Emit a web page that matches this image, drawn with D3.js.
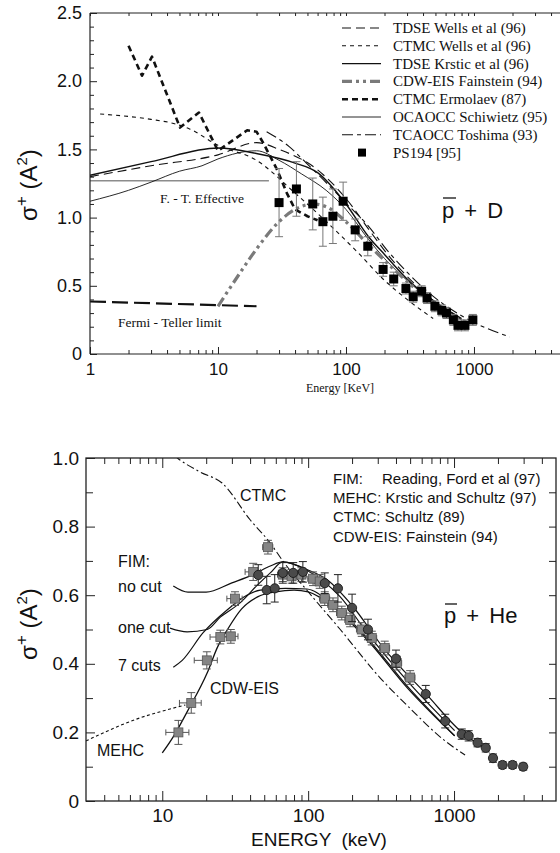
<!DOCTYPE html>
<html>
<head>
<meta charset="utf-8">
<script src="https://cdn.jsdelivr.net/npm/d3@7"></script>
<style>
  html, body { margin: 0; padding: 0; background: #fff; }
  svg { display: block; }
  .sans { font-family: "Liberation Sans", Arial, Helvetica, sans-serif; }
  .serif { font-family: "Liberation Serif", "Times New Roman", serif; }
</style>
</head>
<body>
<svg id="chart" width="560" height="853"></svg>
<script>
// ---------- Upper panel: antiproton + D ----------
const tdseWellsE = [1, 3, 10, 20, 30, 60, 100, 160, 220, 330, 500, 800];
const tdseWellsV = [1.30, 1.38, 1.46, 1.55, 1.50, 1.35, 1.14, 0.88, 0.71, 0.53, 0.38, 0.26];

const ctmcWellsE = [1.2, 3, 4.5, 6, 10, 20, 40, 80, 125, 200, 300, 480];
const ctmcWellsV = [1.76, 1.72, 1.69, 1.65, 1.53, 1.42, 1.18, 0.92, 0.74, 0.54, 0.40, 0.26];

const tdseKrsticE = [1, 3, 10, 20, 40, 60, 100, 150, 200, 300, 500, 800];
const tdseKrsticV = [1.31, 1.41, 1.51, 1.47, 1.40, 1.33, 1.10, 0.86, 0.73, 0.55, 0.38, 0.26];

const cdwDE = [10, 15, 20, 30, 40, 55, 70, 100, 150, 250, 400, 650, 900];
const cdwDV = [0.35, 0.60, 0.77, 0.97, 1.06, 1.10, 1.08, 0.97, 0.80, 0.60, 0.43, 0.28, 0.23];

const ermolaevE = [2, 2.55, 3.05, 5.05, 7.1, 10, 16.9, 20, 22.5, 29, 34.5, 40, 50, 60];
const ermolaevV = [2.26, 2.04, 2.18, 1.66, 1.77, 1.49, 1.64, 1.63, 1.55, 1.35, 1.18, 1.06, 1.01, 0.98];

const schiwietzE = [1, 2, 3, 5, 7.5, 10, 20, 30, 45, 70, 100, 150, 200, 300, 500, 800];
const schiwietzV = [1.12, 1.20, 1.26, 1.34, 1.38, 1.43, 1.49, 1.42, 1.32, 1.20, 1.06, 0.84, 0.70, 0.54, 0.37, 0.25];

const toshimaE = [24, 36, 49, 63, 104, 146, 210, 300, 430, 800, 1900];
const toshimaV = [1.63, 1.52, 1.40, 1.30, 1.09, 0.95, 0.76, 0.60, 0.46, 0.28, 0.125];

const fermiTellerE = [1, 20];
const fermiTellerV = [0.385, 0.35];
const ftEffectiveE = [1, 25];
const ftEffectiveV = [1.27, 1.27];

const ps194DE = [30, 41, 55, 66, 79, 95, 118, 148, 195, 236, 294, 335, 390, 430, 495, 560, 610, 690, 750, 850, 980];
const ps194DV = [1.11, 1.21, 1.10, 0.97, 1.01, 1.12, 0.91, 0.79, 0.62, 0.55, 0.48, 0.42, 0.46, 0.41, 0.35, 0.32, 0.30, 0.25, 0.21, 0.21, 0.25];
const ps194DErr = [0.25, 0.20, 0.19, 0.18, 0.20, 0.14, 0.08, 0.07, 0.05, 0.05, 0.04, 0.04, 0.04, 0.04, 0.04, 0.04, 0.04, 0.04, 0.04, 0.04, 0.04];

const topLegend = ["TDSE Wells et al (96)", "CTMC Wells et al (96)", "TDSE Krstic et al (96)",
  "CDW-EIS Fainstein (94)", "CTMC Ermolaev (87)", "OCAOCC Schiwietz (95)",
  "TCAOCC Toshima (93)", "PS194 [95]"];
const topXTicks = [1, 10, 100, 1000];
const topYTicks = [0, 0.5, 1.0, 1.5, 2.0, 2.5];

// ---------- Lower panel: antiproton + He ----------
const ctmcHeE = [10, 12.7, 18, 25.7, 40, 55, 67, 100, 166, 310, 500, 840, 1190];
const ctmcHeV = [1.04, 1.0, 0.96, 0.927, 0.82, 0.752, 0.70, 0.61, 0.50, 0.36, 0.27, 0.18, 0.134];

const mehcE = [3, 4, 5, 7, 10, 14.4];
const mehcV = [0.175, 0.20, 0.218, 0.242, 0.262, 0.28];

const noCutE = [11.9, 15, 20, 30, 42, 55, 67, 80, 98, 135, 200, 330, 650, 1100, 1700];
const noCutV = [0.627, 0.609, 0.609, 0.636, 0.66, 0.685, 0.697, 0.69, 0.675, 0.645, 0.57, 0.445, 0.31, 0.205, 0.15];

const oneCutE = [11.3, 14.8, 20.3, 25, 34, 45, 55, 67, 80, 98, 166, 254, 478, 1010];
const oneCutV = [0.504, 0.493, 0.50, 0.536, 0.577, 0.63, 0.665, 0.697, 0.69, 0.673, 0.595, 0.49, 0.35, 0.205];

const sevenCutsE = [11.9, 13.7, 19, 27.8, 38, 47, 70, 98, 150, 254, 478, 1010];
const sevenCutsV = [0.39, 0.41, 0.49, 0.557, 0.60, 0.615, 0.62, 0.618, 0.57, 0.475, 0.335, 0.19];

const cdwHeE = [10, 12, 14.8, 20.3, 24, 28, 35, 45, 60, 80, 100, 150, 254, 478, 1010];
const cdwHeV = [0.14, 0.19, 0.26, 0.373, 0.45, 0.50, 0.56, 0.595, 0.61, 0.615, 0.61, 0.565, 0.47, 0.33, 0.19];

// earlier measurements (grey squares, energy and cross-section errors)
const sqHeE = [12.9, 15.8, 20.2, 25, 29.5, 31.5, 42, 53, 67, 77, 90, 108, 120, 130, 148, 170, 194, 233, 273, 335, 405, 500];
const sqHeV = [0.20, 0.286, 0.41, 0.478, 0.48, 0.59, 0.668, 0.74, 0.66, 0.655, 0.66, 0.648, 0.64, 0.59, 0.572, 0.548, 0.528, 0.50, 0.475, 0.446, 0.402, 0.36];
const sqHeErr = [0.035, 0.03, 0.025, 0.02, 0.02, 0.02, 0.025, 0.02, 0.02, 0.02, 0.02, 0.02, 0.02, 0.02, 0.02, 0.02, 0.02, 0.02, 0.02, 0.02, 0.02, 0.02];
const sqHeEFrac = [0.18, 0.17, 0.18, 0.15, 0.12, 0.12, 0.12, 0.08, 0.08, 0.08, 0.08, 0.08, 0.08, 0.08, 0.08, 0.08, 0.08, 0.08, 0.08, 0.08, 0.08, 0.08];

// newer measurements (dark circles)
const ciHeE = [45.5, 52, 59, 67, 79, 92, 130, 160, 200, 257, 400, 640, 870, 1130, 1260, 1450, 1650, 1850, 2150, 2520, 2980];
const ciHeV = [0.659, 0.615, 0.62, 0.665, 0.665, 0.668, 0.635, 0.62, 0.563, 0.50, 0.415, 0.312, 0.233, 0.195, 0.19, 0.17, 0.155, 0.125, 0.105, 0.105, 0.10];
const ciHeErr = [0.03, 0.04, 0.04, 0.03, 0.03, 0.03, 0.03, 0.04, 0.04, 0.03, 0.025, 0.025, 0.02, 0.015, 0.015, 0.012, 0.012, 0.012, 0.01, 0.01, 0.01];

const heLegend = ["MEHC: Krstic and Schultz (97)", "CTMC: Schultz (89)", "CDW-EIS: Fainstein (94)"];
const botXTicks = [10, 100, 1000];
const botYTicks = [0, 0.2, 0.4, 0.6, 0.8, 1.0];

// ---------- helpers ----------
const svg = d3.select("#chart");
const zip = (xs, ys) => xs.map((x, i) => [x, ys[i]]);

function minorLogTicks(lo, hi) {
  const out = [];
  for (let p = Math.floor(Math.log10(lo)); p <= Math.ceil(Math.log10(hi)); p++) {
    for (let m = 2; m <= 9; m++) {
      const v = m * Math.pow(10, p);
      if (v > lo && v < hi) out.push(v);
    }
  }
  return out;
}

function drawCurve(g, x, y, pts, st, curve) {
  g.append("path")
    .datum(pts)
    .attr("fill", "none")
    .attr("stroke", st.color)
    .attr("stroke-width", st.width)
    .attr("stroke-dasharray", st.dash || null)
    .attr("stroke-linejoin", "round")
    .attr("d", d3.line().x(d => x(d[0])).y(d => y(d[1])).curve(curve || d3.curveMonotoneX));
}

function styleAxis(g, size) {
  g.select(".domain").remove();
  g.selectAll("line").attr("stroke", "#222");
  g.selectAll("text").attr("fill", "#111").style("font-family", '"Liberation Sans", Arial, sans-serif').style("font-size", size + "px");
}

function sigmaTitle(g, cx, cy) {
  const t = g.append("text").attr("class", "sans")
    .attr("transform", `translate(${cx},${cy}) rotate(-90)`)
    .attr("text-anchor", "middle").attr("font-size", 24).attr("fill", "#111");
  t.append("tspan").text("σ");
  t.append("tspan").attr("dy", -10).attr("font-size", 17).text("+");
  t.append("tspan").attr("dy", 10).text(" (A");
  t.append("tspan").attr("dy", -10).attr("font-size", 15).text("2");
  t.append("tspan").attr("dy", 10).text(")");
}

// ================= Upper panel =================
const tX = d3.scaleLog().domain([1, 4700]).range([90, 560]);
const tY = d3.scaleLinear().domain([0, 2.5]).range([354, 13]);

const topStyles = {
  "TDSE Wells et al (96)": { color: "#111", width: 1.1, dash: "9,5" },
  "CTMC Wells et al (96)": { color: "#111", width: 1.1, dash: "4,4" },
  "TDSE Krstic et al (96)": { color: "#111", width: 1.4 },
  "CDW-EIS Fainstein (94)": { color: "#7a7a7a", width: 3.2, dash: "10,4,3,4,3,4" },
  "CTMC Ermolaev (87)": { color: "#111", width: 2.6, dash: "6,4" },
  "OCAOCC Schiwietz (95)": { color: "#111", width: 0.9 },
  "TCAOCC Toshima (93)": { color: "#111", width: 1.1, dash: "11,4,4,4" }
};

const upper = svg.append("g");
upper.append("clipPath").attr("id", "clipTop")
  .append("rect").attr("x", 90).attr("y", 13).attr("width", 470).attr("height", 341);
const upperPlot = upper.append("g").attr("clip-path", "url(#clipTop)");

// reference limits
drawCurve(upperPlot, tX, tY, zip(ftEffectiveE, ftEffectiveV), { color: "#8c8c8c", width: 1.6 }, d3.curveLinear);
drawCurve(upperPlot, tX, tY, zip(fermiTellerE, fermiTellerV), { color: "#111", width: 2.2, dash: "16,6" }, d3.curveLinear);

drawCurve(upperPlot, tX, tY, zip(schiwietzE, schiwietzV), topStyles["OCAOCC Schiwietz (95)"]);
drawCurve(upperPlot, tX, tY, zip(tdseKrsticE, tdseKrsticV), topStyles["TDSE Krstic et al (96)"]);
drawCurve(upperPlot, tX, tY, zip(tdseWellsE, tdseWellsV), topStyles["TDSE Wells et al (96)"]);
drawCurve(upperPlot, tX, tY, zip(ctmcWellsE, ctmcWellsV), topStyles["CTMC Wells et al (96)"]);
drawCurve(upperPlot, tX, tY, zip(toshimaE, toshimaV), topStyles["TCAOCC Toshima (93)"]);
drawCurve(upperPlot, tX, tY, zip(cdwDE, cdwDV), topStyles["CDW-EIS Fainstein (94)"]);
drawCurve(upperPlot, tX, tY, zip(ermolaevE, ermolaevV), topStyles["CTMC Ermolaev (87)"], d3.curveLinear);

// PS194 data with error bars
const psD = ps194DE.map((e, i) => ({ e, v: ps194DV[i], err: ps194DErr[i] }));
const eb = upperPlot.append("g").attr("stroke", "#777").attr("stroke-width", 1);
psD.forEach(d => {
  const cx = tX(d.e);
  eb.append("line").attr("x1", cx).attr("x2", cx).attr("y1", tY(d.v - d.err)).attr("y2", tY(d.v + d.err));
  eb.append("line").attr("x1", cx - 4).attr("x2", cx + 4).attr("y1", tY(d.v + d.err)).attr("y2", tY(d.v + d.err));
  eb.append("line").attr("x1", cx - 4).attr("x2", cx + 4).attr("y1", tY(d.v - d.err)).attr("y2", tY(d.v - d.err));
});
upperPlot.append("g").selectAll("rect").data(psD).join("rect")
  .attr("x", d => tX(d.e) - 4.5).attr("y", d => tY(d.v) - 4.5)
  .attr("width", 9).attr("height", 9).attr("fill", "#000");

// frame (left, bottom, top)
const frameTop = upper.append("g").attr("stroke", "#222").attr("stroke-width", 1.2);
frameTop.append("line").attr("x1", 90).attr("x2", 560).attr("y1", 354).attr("y2", 354);
frameTop.append("line").attr("x1", 90).attr("x2", 560).attr("y1", 13).attr("y2", 13);
frameTop.append("line").attr("x1", 90).attr("x2", 90).attr("y1", 13).attr("y2", 354);

// axes
upper.append("g").attr("transform", "translate(0,354)")
  .call(d3.axisBottom(tX).tickValues(topXTicks).tickFormat(d3.format("d")).tickSize(-7).tickPadding(9))
  .call(g => styleAxis(g, 17));
upper.append("g").attr("transform", "translate(0,354)")
  .call(d3.axisBottom(tX).tickValues(minorLogTicks(1, 4700)).tickFormat("").tickSize(-4))
  .call(g => styleAxis(g, 17));
upper.append("g").attr("transform", "translate(0,13)")
  .call(d3.axisTop(tX).tickValues(topXTicks.concat(minorLogTicks(1, 4700))).tickFormat("").tickSize(-3))
  .call(g => styleAxis(g, 17));
upper.append("g").attr("transform", "translate(90,0)")
  .call(d3.axisLeft(tY).tickValues(topYTicks).tickFormat(d => d === 0 ? "0" : d.toFixed(1)).tickSize(-7).tickPadding(8))
  .call(g => styleAxis(g, 18));
upper.append("g").attr("transform", "translate(90,0)")
  .call(d3.axisLeft(tY).tickValues(d3.range(0.1, 2.5, 0.1).filter(v => Math.abs(v * 2 - Math.round(v * 2)) > 1e-6)).tickFormat("").tickSize(-4))
  .call(g => styleAxis(g, 18));

sigmaTitle(upper, 37, 185);
upper.append("text").attr("class", "serif").attr("x", 340).attr("y", 392)
  .attr("text-anchor", "middle").attr("font-size", 12).attr("fill", "#111").text("Energy [KeV]");

// annotations
upper.append("text").attr("class", "serif").attr("x", 160).attr("y", 203)
  .attr("font-size", 13.5).attr("fill", "#111").text("F. - T.  Effective");
upper.append("text").attr("class", "serif").attr("x", 118).attr("y", 327)
  .attr("font-size", 13.5).attr("fill", "#111").text("Fermi - Teller limit");

// p̄ + D
upper.append("text").attr("class", "sans").attr("x", 442).attr("y", 218)
  .attr("font-size", 22).attr("word-spacing", 4).attr("fill", "#111").text("p + D");
upper.append("line").attr("x1", 443).attr("x2", 456).attr("y1", 198).attr("y2", 198)
  .attr("stroke", "#111").attr("stroke-width", 1.3);

// legend
const legTop = upper.append("g");
topLegend.forEach((name, i) => {
  const y = 28 + i * 17.8;
  if (topStyles[name]) {
    const st = topStyles[name];
    legTop.append("line").attr("x1", 342).attr("x2", 381).attr("y1", y).attr("y2", y)
      .attr("stroke", st.color).attr("stroke-width", st.width).attr("stroke-dasharray", st.dash || null);
  } else {
    legTop.append("rect").attr("x", 358).attr("y", y - 4).attr("width", 8).attr("height", 8).attr("fill", "#000");
  }
  legTop.append("text").attr("class", "serif").attr("x", 393).attr("y", y + 5)
    .attr("font-size", 15).attr("fill", "#111").text(name);
});

// ================= Lower panel =================
const bX = d3.scaleLog().domain([3, 5000]).range([86, 556]);
const bY = d3.scaleLinear().domain([0, 1]).range([801, 458]);

const lower = svg.append("g");
lower.append("clipPath").attr("id", "clipBot")
  .append("rect").attr("x", 86).attr("y", 458).attr("width", 470).attr("height", 343);
const lowerPlot = lower.append("g").attr("clip-path", "url(#clipBot)");

const heStyles = {
  ctmc: { color: "#111", width: 1.1, dash: "8,3,2,3" },
  mehc: { color: "#111", width: 1.1, dash: "3,2.5" },
  fim: { color: "#111", width: 1.2 },
  cdw: { color: "#111", width: 1.3 }
};
drawCurve(lowerPlot, bX, bY, zip(ctmcHeE, ctmcHeV), heStyles.ctmc);
drawCurve(lowerPlot, bX, bY, zip(mehcE, mehcV), heStyles.mehc);
drawCurve(lowerPlot, bX, bY, zip(noCutE, noCutV), heStyles.fim);
drawCurve(lowerPlot, bX, bY, zip(oneCutE, oneCutV), heStyles.fim);
drawCurve(lowerPlot, bX, bY, zip(sevenCutsE, sevenCutsV), heStyles.fim);
drawCurve(lowerPlot, bX, bY, zip(cdwHeE, cdwHeV), heStyles.cdw);

// grey squares with energy and cross-section error bars
const sq = sqHeE.map((e, i) => ({ e, v: sqHeV[i], err: sqHeErr[i], ef: sqHeEFrac[i] }));
const sqErr = lowerPlot.append("g").attr("stroke", "#555").attr("stroke-width", 1);
sq.forEach(d => {
  const cx = bX(d.e), cy = bY(d.v);
  const xl = bX(d.e * (1 - d.ef)), xr = bX(d.e * (1 + d.ef));
  const yt = bY(d.v + d.err), yb = bY(d.v - d.err);
  sqErr.append("line").attr("x1", xl).attr("x2", xr).attr("y1", cy).attr("y2", cy);
  sqErr.append("line").attr("x1", xl).attr("x2", xl).attr("y1", cy - 3).attr("y2", cy + 3);
  sqErr.append("line").attr("x1", xr).attr("x2", xr).attr("y1", cy - 3).attr("y2", cy + 3);
  sqErr.append("line").attr("x1", cx).attr("x2", cx).attr("y1", yt).attr("y2", yb);
  sqErr.append("line").attr("x1", cx - 4).attr("x2", cx + 4).attr("y1", yt).attr("y2", yt);
  sqErr.append("line").attr("x1", cx - 4).attr("x2", cx + 4).attr("y1", yb).attr("y2", yb);
});
lowerPlot.append("g").selectAll("rect").data(sq).join("rect")
  .attr("x", d => bX(d.e) - 4.5).attr("y", d => bY(d.v) - 4.5)
  .attr("width", 9).attr("height", 9)
  .attr("fill", "#858585").attr("stroke", "#555").attr("stroke-width", 0.8);

// dark circles with cross-section error bars
const ci = ciHeE.map((e, i) => ({ e, v: ciHeV[i], err: ciHeErr[i] }));
const ciErr = lowerPlot.append("g").attr("stroke", "#222").attr("stroke-width", 1);
ci.forEach(d => {
  const cx = bX(d.e);
  const yt = bY(d.v + d.err), yb = bY(d.v - d.err);
  ciErr.append("line").attr("x1", cx).attr("x2", cx).attr("y1", yt).attr("y2", yb);
  ciErr.append("line").attr("x1", cx - 4).attr("x2", cx + 4).attr("y1", yt).attr("y2", yt);
  ciErr.append("line").attr("x1", cx - 4).attr("x2", cx + 4).attr("y1", yb).attr("y2", yb);
});
lowerPlot.append("g").selectAll("circle").data(ci).join("circle")
  .attr("cx", d => bX(d.e)).attr("cy", d => bY(d.v)).attr("r", 4.6)
  .attr("fill", "#4a4a4a").attr("stroke", "#1a1a1a").attr("stroke-width", 0.9);

// frame
lower.append("rect").attr("x", 86).attr("y", 458).attr("width", 470).attr("height", 343)
  .attr("fill", "none").attr("stroke", "#222").attr("stroke-width", 1.3);

// axes
lower.append("g").attr("transform", "translate(0,801)")
  .call(d3.axisBottom(bX).tickValues(botXTicks).tickFormat(d3.format("d")).tickSize(-10).tickPadding(8))
  .call(g => styleAxis(g, 19));
lower.append("g").attr("transform", "translate(0,801)")
  .call(d3.axisBottom(bX).tickValues(minorLogTicks(3, 5000)).tickFormat("").tickSize(-6))
  .call(g => styleAxis(g, 19));
lower.append("g").attr("transform", "translate(0,458)")
  .call(d3.axisTop(bX).tickValues(botXTicks).tickFormat("").tickSize(-10))
  .call(g => styleAxis(g, 19));
lower.append("g").attr("transform", "translate(0,458)")
  .call(d3.axisTop(bX).tickValues(minorLogTicks(3, 5000)).tickFormat("").tickSize(-6))
  .call(g => styleAxis(g, 19));
lower.append("g").attr("transform", "translate(86,0)")
  .call(d3.axisLeft(bY).tickValues(botYTicks).tickFormat(d => d === 0 ? "0" : d.toFixed(1)).tickSize(-9).tickPadding(7))
  .call(g => styleAxis(g, 19));
lower.append("g").attr("transform", "translate(86,0)")
  .call(d3.axisLeft(bY).tickValues([0.1, 0.3, 0.5, 0.7, 0.9]).tickFormat("").tickSize(-7))
  .call(g => styleAxis(g, 19));
lower.append("g").attr("transform", "translate(556,0)")
  .call(d3.axisRight(bY).tickValues(d3.range(0.1, 1.0, 0.1)).tickFormat("").tickSize(-7))
  .call(g => styleAxis(g, 19));

sigmaTitle(lower, 37, 624);
lower.append("text").attr("class", "sans").attr("x", 319).attr("y", 846)
  .attr("text-anchor", "middle").attr("font-size", 19).attr("fill", "#111")
  .style("white-space", "pre").text("ENERGY  (keV)");

// curve labels
const lab = (x, y, s) => lower.append("text").attr("class", "sans").attr("x", x).attr("y", y)
  .attr("font-size", 16).attr("fill", "#111").text(s);
lab(240, 501, "CTMC");
lab(118, 567, "FIM:");
lab(118, 592, "no cut");
lab(118, 633, "one cut");
lab(118, 671, "7 cuts");
lab(210, 694, "CDW-EIS");
lab(97, 756, "MEHC");

// legend
lower.append("text").attr("class", "sans").attr("x", 333).attr("y", 484)
  .attr("font-size", 15).attr("fill", "#111").text("FIM:");
lower.append("text").attr("class", "sans").attr("x", 382).attr("y", 484)
  .attr("font-size", 15).attr("fill", "#111").text("Reading, Ford et al (97)");
heLegend.forEach((s, i) => {
  lower.append("text").attr("class", "sans").attr("x", 333).attr("y", 503 + i * 19.3)
    .attr("font-size", 15).attr("fill", "#111").text(s);
});

// p̄ + He
lower.append("text").attr("class", "sans").attr("x", 444).attr("y", 623)
  .attr("font-size", 22).attr("word-spacing", 4).attr("fill", "#111").text("p + He");
lower.append("line").attr("x1", 445).attr("x2", 457).attr("y1", 604).attr("y2", 604)
  .attr("stroke", "#111").attr("stroke-width", 1.3);
</script>
</body>
</html>
